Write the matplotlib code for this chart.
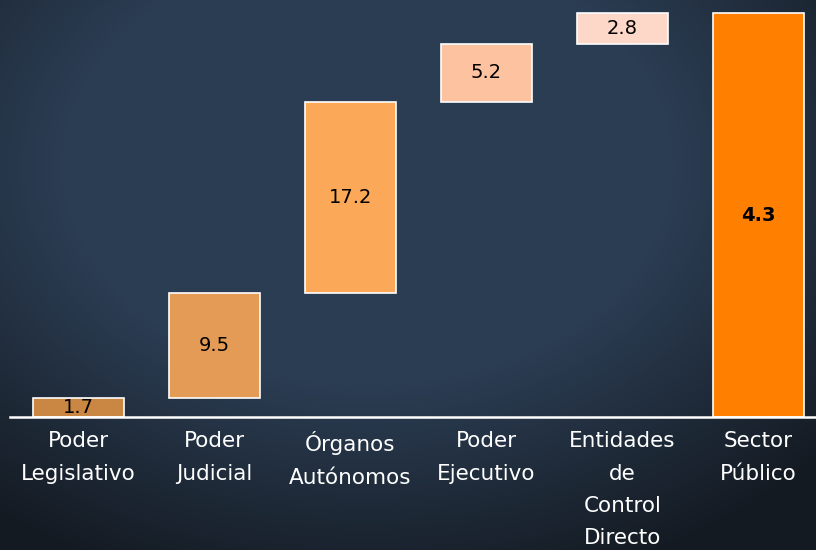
import numpy as np
import matplotlib
matplotlib.use("Agg")
import matplotlib.pyplot as plt

# waterfall: pieces stacking up to the total bar
categories = ["Poder\nLegislativo", "Poder\nJudicial", "Órganos\nAutónomos",
              "Poder\nEjecutivo", "Entidades\nde\nControl\nDirecto", "Sector\nPúblico"]
steps = [1.7, 9.5, 17.2, 5.2, 2.8]
value_labels = ["1.7", "9.5", "17.2", "5.2", "2.8", "4.3"]
colors = ["#C98743", "#E39B55", "#FBA858", "#FDC3A0", "#FDD8C8", "#FF7F00"]

total = sum(steps)
bottoms = list(np.cumsum([0] + steps[:-1])) + [0]
heights = steps + [total]

W, H = 816, 550
fig = plt.figure(figsize=(W / 100, H / 100), dpi=100, facecolor="#2B3D52")

# chalkboard-ish background: blue, darker towards the bottom corners
bgax = fig.add_axes([0, 0, 1, 1], zorder=0)
yy, xx = np.mgrid[0:H, 0:W]
d = np.sqrt(((xx - W * 0.45) / (W * 0.75)) ** 2 + ((yy - H * 0.3) / (H * 0.8)) ** 2)
t = np.clip((d - 0.5) / 0.5, 0, 1)[..., None]
centre = np.array([43, 61, 83]) / 255
edge = np.array([20, 26, 34]) / 255
img = centre * (1 - t) + edge * t
bgax.imshow(img, aspect="auto", extent=[0, 1, 0, 1])
bgax.axis("off")

ax = fig.add_axes([0, 0, 1, 1], zorder=1)
ax.patch.set_alpha(0)

# pixel mapping: baseline at y=417 px, total bar top at 13 px
s = 404 / total
ax.set_ylim(-133 / s, 417 / s)
ax.set_xlim(-78.5 / 136, (816 - 78.5) / 136)

x = np.arange(len(categories))
ax.bar(x, heights, bottom=bottoms, width=0.67, color=colors,
       edgecolor="white", linewidth=1.2, zorder=2)

ax.axhline(0, xmin=10 / 816, xmax=1, color="white", linewidth=1.8, zorder=3)

for i, (b, h, lab) in enumerate(zip(bottoms, heights, value_labels)):
    weight = "bold" if i == len(heights) - 1 else "normal"
    ax.text(x[i], b + h / 2, lab, ha="center", va="center", fontsize=14,
            color="black", fontweight=weight, zorder=4)

for i, cat in enumerate(categories):
    ax.text(x[i], -1.3, cat, ha="center", va="top", fontsize=15.5,
            color="white", linespacing=1.76)

ax.axis("off")
fig.savefig("out.png", dpi=100)
